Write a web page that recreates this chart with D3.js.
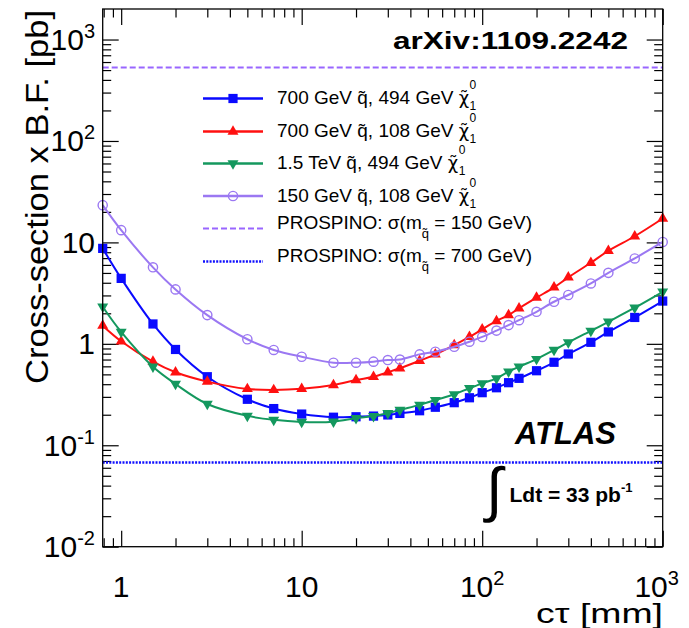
<!DOCTYPE html>
<html>
<head>
<meta charset="utf-8">
<script src="https://cdn.jsdelivr.net/npm/d3@7"></script>
<style>
body { margin: 0; background: #fff; }
text { font-family: "Liberation Sans", Arial, sans-serif; fill: #000; }
</style>
</head>
<body>
<div id="chart"></div>
<script>
// c-tau points [mm], the same for the four samples
var ctau = [0.79, 1, 1.5, 2, 3, 5, 7, 10, 15, 20, 25, 30, 35, 45, 55, 70, 85, 100, 120, 140, 160, 200, 250, 300, 400, 500, 700, 1000];

// cross-section x B.F. [pb]
var sq700_n494 = [8.73, 4.42, 1.57, 0.88, 0.474, 0.284, 0.23, 0.203, 0.189, 0.191, 0.194, 0.199, 0.206, 0.219, 0.237, 0.263, 0.294, 0.330, 0.369, 0.414, 0.457, 0.543, 0.658, 0.794, 1.035, 1.31, 1.82, 2.64];
var sq700_n108 = [1.51, 1.06, 0.667, 0.524, 0.424, 0.359, 0.351, 0.36, 0.393, 0.44, 0.474, 0.524, 0.574, 0.681, 0.787, 0.972, 1.17, 1.39, 1.68, 1.92, 2.24, 2.85, 3.60, 4.52, 6.30, 8.27, 11.5, 17.2];
var sq1500_n494 = [2.32, 1.31, 0.594, 0.402, 0.255, 0.195, 0.178, 0.170, 0.171, 0.185, 0.194, 0.207, 0.223, 0.250, 0.279, 0.318, 0.365, 0.408, 0.457, 0.531, 0.594, 0.708, 0.869, 1.035, 1.34, 1.65, 2.27, 3.26];
var sq150_n108 = [23.3, 13.2, 5.68, 3.44, 1.92, 1.11, 0.87, 0.746, 0.652, 0.652, 0.667, 0.692, 0.70, 0.787, 0.836, 0.936, 1.05, 1.17, 1.35, 1.53, 1.71, 2.07, 2.60, 3.03, 3.94, 5.01, 6.95, 10.1];

// PROSPINO cross-sections [pb]
var prospino150 = 530;
var prospino700 = 0.0675;

// axis ticks and labels  [base, exponent]
var xMajor = [1, 10, 100, 1000];
var xLabels = [["1", ""], ["10", ""], ["10", "2"], ["10", "3"]];
var yMajor = [0.01, 0.1, 1, 10, 100, 1000];
var yLabels = [["10", "-2"], ["10", "-1"], ["1", ""], ["10", ""], ["10", "2"], ["10", "3"]];

var width = 689, height = 628;
var frame = { left: 102.7, right: 662.7, top: 9, bottom: 546.7 };

var svg = d3.select("#chart")
    .append("svg")
    .attr("width", width)
    .attr("height", height)
    .style("display", "block");

svg.append("rect").attr("width", width).attr("height", height).attr("fill", "#fff");

var x = d3.scaleLog()
    .domain([0.79, 1000])
    .range([frame.left, frame.right]);

var y = d3.scaleLog()
    .domain([0.01, 2000])
    .range([frame.bottom, frame.top]);

// minor ticks 2..9 of each decade
var xMinor = [], yMinor = [];
for (var n = -1; n <= 2; n++)
    for (var k = 2; k <= 9; k++) {
        var v = k * Math.pow(10, n);
        if (v > 0.79 && v < 1000) xMinor.push(v);
    }
for (var n = -2; n <= 3; n++)
    for (var k = 2; k <= 9; k++) {
        var v = k * Math.pow(10, n);
        if (v > 0.01 && v < 2000) yMinor.push(v);
    }

// ROOT style: ticks inside the frame, on all four sides
function tickAxis(axisFn, scale, vals, len, tx, ty) {
    svg.append("g")
        .attr("transform", "translate(" + tx + "," + ty + ")")
        .call(axisFn(scale).tickValues(vals).tickSize(-len).tickFormat(""))
        .call(function(g) { g.select(".domain").remove(); })
        .selectAll("line").attr("stroke-width", 1.2);
}
tickAxis(d3.axisBottom, x, xMajor, 16, 0, frame.bottom);
tickAxis(d3.axisBottom, x, xMinor, 8.5, 0, frame.bottom);
tickAxis(d3.axisTop, x, xMajor, 16, 0, frame.top);
tickAxis(d3.axisTop, x, xMinor, 8.5, 0, frame.top);
tickAxis(d3.axisLeft, y, yMajor, 16, frame.left, 0);
tickAxis(d3.axisLeft, y, yMinor, 8.5, frame.left, 0);
tickAxis(d3.axisRight, y, yMajor, 16, frame.right, 0);
tickAxis(d3.axisRight, y, yMinor, 8.5, frame.right, 0);

// tick labels
var xl = svg.append("g").selectAll("text")
    .data(xMajor)
    .enter()
    .append("text")
    .attr("x", function(d, i) { return x(d) + (i == 3 ? -6 : 0); })
    .attr("y", 597)
    .attr("text-anchor", "middle")
    .style("font-size", "30px");
xl.append("tspan").text(function(d, i) { return xLabels[i][0]; });
xl.append("tspan").attr("dy", -12).style("font-size", "20px")
    .text(function(d, i) { return xLabels[i][1]; });

var yl = svg.append("g").selectAll("text")
    .data(yMajor)
    .enter()
    .append("text")
    .attr("x", 95)
    .attr("y", function(d) { return y(d) + 10.5; })
    .attr("text-anchor", "end")
    .style("font-size", "30px");
yl.append("tspan").text(function(d, i) { return yLabels[i][0]; });
yl.append("tspan").attr("dy", -12).style("font-size", "20px")
    .text(function(d, i) { return yLabels[i][1]; });

// axis titles
svg.append("text")
    .attr("transform", "translate(48,197) rotate(-90)")
    .attr("text-anchor", "middle")
    .attr("textLength", 374)
    .attr("lengthAdjust", "spacingAndGlyphs")
    .style("font-size", "31px")
    .text("Cross-section x B.F. [pb]");

svg.append("text")
    .attr("x", 663)
    .attr("y", 623)
    .attr("text-anchor", "end")
    .attr("textLength", 127)
    .attr("lengthAdjust", "spacingAndGlyphs")
    .style("font-size", "28px")
    .text("c\u03c4 [mm]");

// PROSPINO reference lines
svg.append("line")
    .attr("x1", frame.left).attr("x2", frame.right)
    .attr("y1", y(prospino150)).attr("y2", y(prospino150))
    .attr("stroke", "#9966ff").attr("stroke-width", 2)
    .attr("stroke-dasharray", "6,3");
svg.append("line")
    .attr("x1", frame.left).attr("x2", frame.right)
    .attr("y1", y(prospino700)).attr("y2", y(prospino700))
    .attr("stroke", "#1010ff").attr("stroke-width", 2.5)
    .attr("stroke-dasharray", "2,1.3");

// signal samples
var series = [
    { values: sq700_n494, color: "#0a0aff", marker: "square" },
    { values: sq700_n108, color: "#ff1010", marker: "up" },
    { values: sq1500_n494, color: "#14985e", marker: "down" },
    { values: sq150_n108, color: "#9b78f2", marker: "circle" }
];

function drawMarker(g, kind, color) {
    if (kind == "circle") {
        return g.append("circle").attr("r", 4.6)
            .attr("fill", "none").attr("stroke", color).attr("stroke-width", 1.4);
    }
    var sym = kind == "square" ? d3.symbol().type(d3.symbolSquare).size(85)
        : d3.symbol().type(d3.symbolTriangle).size(52);
    var p = g.append("path").attr("d", sym()).attr("fill", color);
    if (kind == "down") p.attr("transform", "rotate(180)");
    return p;
}

var line = d3.line()
    .x(function(d) { return x(d[0]); })
    .y(function(d) { return y(d[1]); })
    .curve(d3.curveCatmullRom.alpha(0.5));

series.forEach(function(s) {
    var pts = ctau.map(function(c, i) { return [c, s.values[i]]; });
    svg.append("path")
        .datum(pts)
        .attr("d", line)
        .attr("fill", "none")
        .attr("stroke", s.color)
        .attr("stroke-width", 2);
    svg.append("g").selectAll("g")
        .data(pts)
        .enter()
        .append("g")
        .attr("transform", function(d) { return "translate(" + x(d[0]) + "," + y(d[1]) + ")"; })
        .each(function() { drawMarker(d3.select(this), s.marker, s.color); });
});

// legend
var legRows = [
    { y: 98.5, base: 103.5, sq: "700 GeV q\u0303, 494 GeV " },
    { y: 131.5, base: 136.5, sq: "700 GeV q\u0303, 108 GeV " },
    { y: 163.5, base: 168.5, sq: "1.5 TeV q\u0303, 494 GeV " },
    { y: 196, base: 201.5, sq: "150 GeV q\u0303, 108 GeV " }
];
legRows.forEach(function(r, i) {
    var s = series[i];
    svg.append("line").attr("x1", 203).attr("x2", 263).attr("y1", r.y).attr("y2", r.y)
        .attr("stroke", s.color).attr("stroke-width", 2.5);
    drawMarker(svg.append("g").attr("transform", "translate(233," + r.y + ")"), s.marker, s.color);
    var t = svg.append("text").attr("x", 277).attr("y", r.base).style("font-size", "19px");
    t.append("tspan").text(r.sq);
    t.append("tspan").style("font-family", "DejaVu Sans").style("font-size", "18px").text("\u03c7\u0303");
    t.append("tspan").attr("dx", 0.5).attr("dy", 6).style("font-size", "12px").text("1");
    t.append("tspan").attr("dx", -6.7).attr("dy", -20.5).style("font-size", "12px").text("0");
});

var prosRows = [
    { y: 228.5, color: "#9966ff", dash: "6,3", w: 2, mass: "150" },
    { y: 261.5, color: "#1010ff", dash: "2,1.3", w: 2.5, mass: "700" }
];
prosRows.forEach(function(r) {
    svg.append("line").attr("x1", 203).attr("x2", 263).attr("y1", r.y).attr("y2", r.y)
        .attr("stroke", r.color).attr("stroke-width", r.w).attr("stroke-dasharray", r.dash);
    var t = svg.append("text").attr("x", 277).attr("y", r.y).style("font-size", "19px");
    t.append("tspan").text("PROSPINO: \u03c3(m");
    t.append("tspan").attr("dy", 9).style("font-size", "13px").text("q\u0303");
    t.append("tspan").attr("dy", -9).text(" = " + r.mass + " GeV)");
});

// labels
svg.append("text")
    .attr("x", 393).attr("y", 48.5)
    .attr("textLength", 235)
    .attr("lengthAdjust", "spacingAndGlyphs")
    .style("font-size", "23px").style("font-weight", "bold")
    .text("arXiv:1109.2242");

svg.append("text")
    .attr("x", 515).attr("y", 444)
    .style("font-size", "31px").style("font-weight", "bold").style("font-style", "italic")
    .text("ATLAS");

svg.append("text")
    .attr("x", 486).attr("y", 510)
    .style("font-size", "60px")
    .text("\u222b");
var lum = svg.append("text")
    .attr("x", 509.5).attr("y", 501.7)
    .style("font-size", "21px").style("font-weight", "bold");
lum.append("tspan").text("Ldt = 33 pb");
lum.append("tspan").attr("dy", -10).style("font-size", "13px").text("-1");

// frame
svg.append("rect")
    .attr("x", frame.left).attr("y", frame.top)
    .attr("width", frame.right - frame.left)
    .attr("height", frame.bottom - frame.top)
    .attr("fill", "none")
    .attr("stroke", "#000")
    .attr("stroke-width", 1.3);
</script>
</body>
</html>
